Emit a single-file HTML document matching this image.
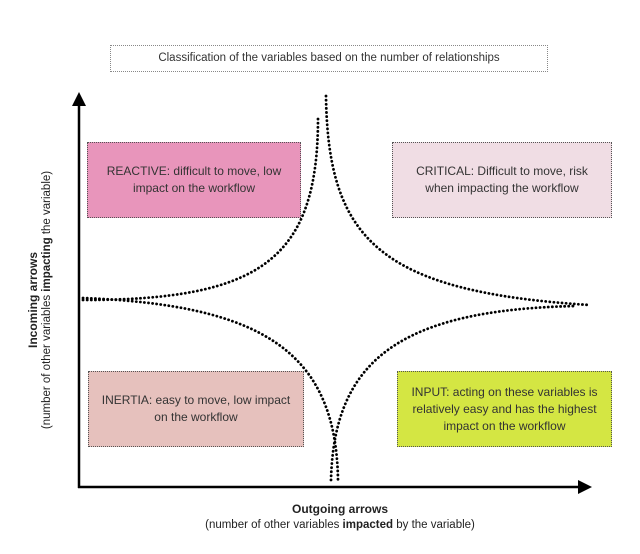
<!DOCTYPE html>
<html><head><style>
body{margin:0;width:640px;height:554px;background:#fff;font-family:"Liberation Sans",sans-serif;position:relative;overflow:hidden;color:#222}
.b{position:absolute;border:1.5px dotted #555;box-sizing:border-box;display:flex;align-items:center;justify-content:center;text-align:center;font-size:12px;line-height:17px;color:#333}
.t{position:absolute;font-size:12px;white-space:nowrap}
</style></head><body>
<div class="b" style="left:110px;top:45px;width:438px;height:27px;border-color:#888;font-size:11.5px">Classification of the variables based on the number of relationships</div>
<div class="b" style="left:87px;top:142px;width:214px;height:76px;background:#e895bb">REACTIVE: difficult to move, low<br>impact on the workflow</div>
<div class="b" style="left:392px;top:142px;width:220px;height:76px;background:#f0dde4">CRITICAL: Difficult to move, risk<br>when impacting the workflow</div>
<div class="b" style="left:88px;top:371px;width:216px;height:76px;background:#e6c1bd">INERTIA: easy to move, low impact<br>on the workflow</div>
<div class="b" style="left:397px;top:371px;width:215px;height:76px;background:#d4e643">INPUT: acting on these variables is<br>relatively easy and has the highest<br>impact on the workflow</div>
<svg width="640" height="554" style="position:absolute;left:0;top:0">
<g stroke="#000" stroke-width="2.5" fill="none">
<line x1="79" y1="488" x2="79" y2="100"/>
<line x1="78" y1="487" x2="582" y2="487"/>
</g>
<polygon points="79,92 72,106 86,106" fill="#000"/>
<polygon points="592,487 578,480 578,494" fill="#000"/>
<g stroke="#000" stroke-width="2.8" fill="none" stroke-dasharray="0.1 4" stroke-linecap="round">
<path d="M83,300 C260,300 318,260 318,118"/>
<path d="M326,96 C328,240 380,292 590,305"/>
<path d="M83,298 C260,305 336,350 338,480"/>
<path d="M331,480 C334,360 400,310 575,306"/>
</g>
</svg>
<div class="t" style="left:0;top:0;transform-origin:0 0;transform:translate(26px,380px) rotate(-90deg);width:160px;text-align:center;font-weight:bold">Incoming arrows</div>
<div class="t" style="left:0;top:0;transform-origin:0 0;transform:translate(41px,435px) rotate(-90deg);width:270px;text-align:center;font-size:11.5px">(number of other variables <b>impacting</b> the variable)</div>
<div class="t" style="left:240px;top:502px;width:200px;text-align:center;font-weight:bold">Outgoing arrows</div>
<div class="t" style="left:170px;top:519px;width:340px;text-align:center;font-size:11.5px">(number of other variables <b>impacted</b> by the variable)</div>
</body></html>
